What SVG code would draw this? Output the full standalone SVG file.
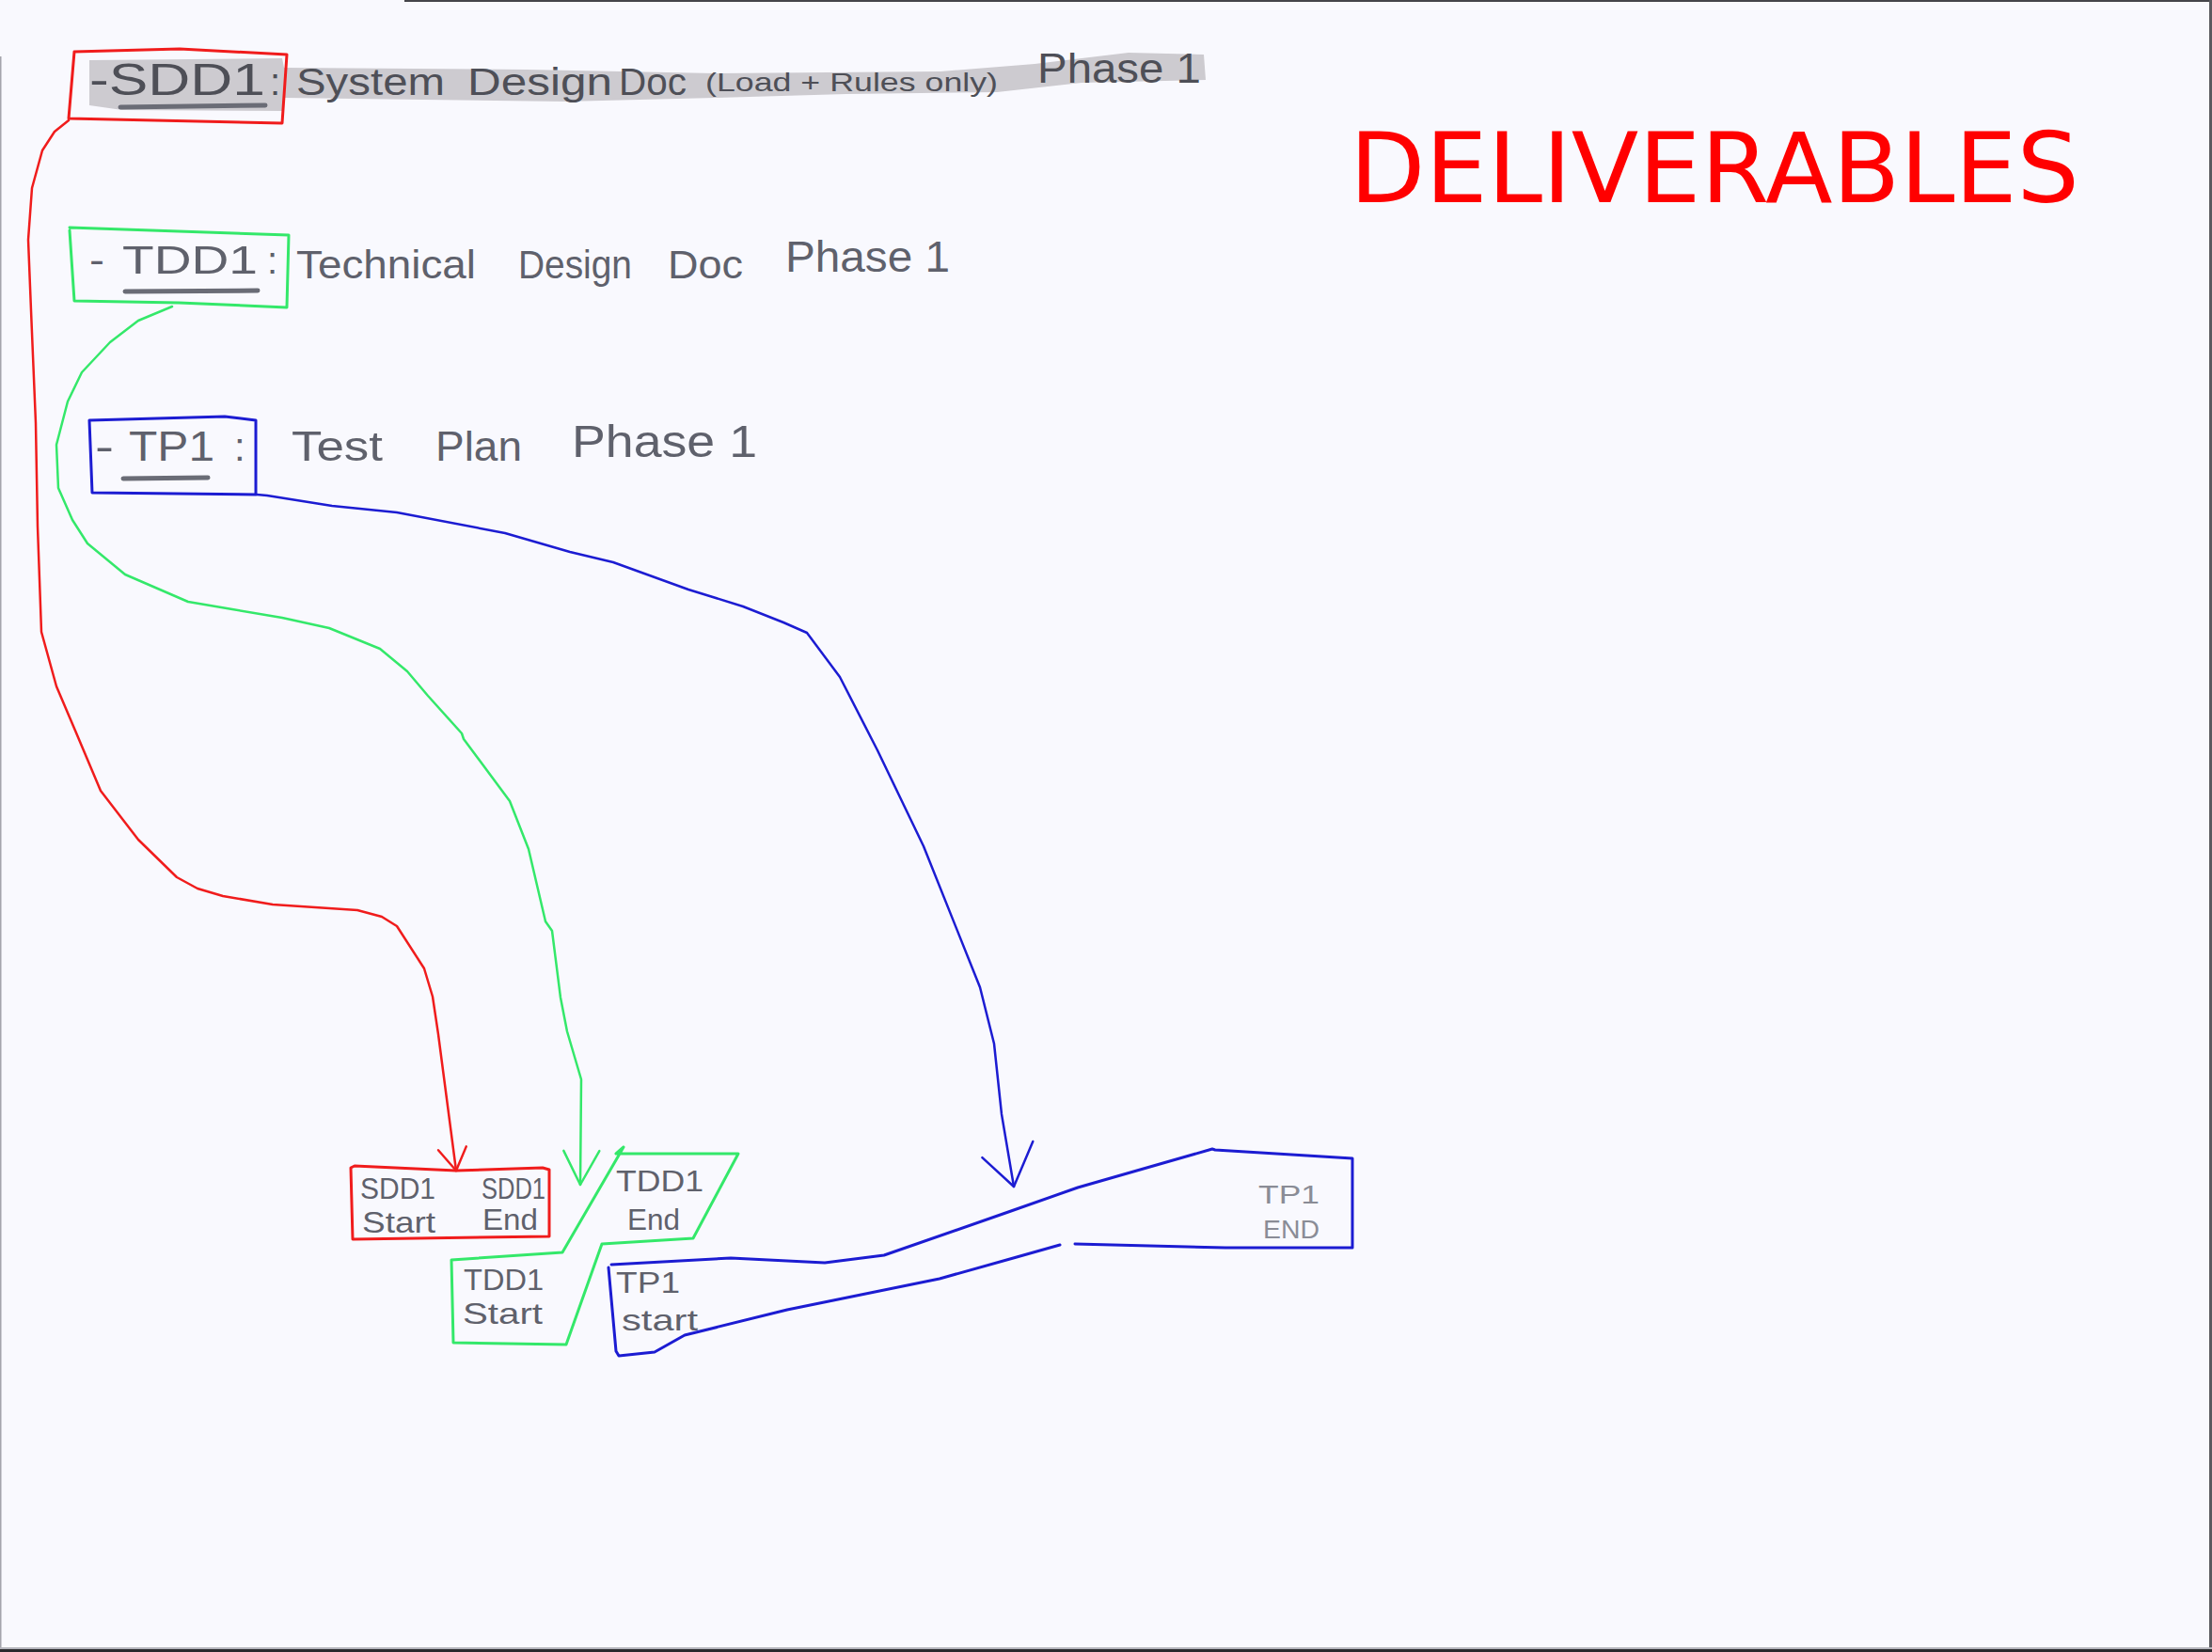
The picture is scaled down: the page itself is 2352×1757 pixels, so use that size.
<svg xmlns="http://www.w3.org/2000/svg" width="2352" height="1757" viewBox="0 0 2352 1757">
<style>
.hand{font-family:"Liberation Sans","DejaVu Sans",sans-serif;fill:#5f616c}
.box{fill:none;stroke-width:3;stroke-linejoin:round;stroke-linecap:round}
.con{fill:none;stroke-width:2.5;stroke-linejoin:round;stroke-linecap:round}
.red{stroke:#f01c1c}
.green{stroke:#34e86a}
.blue{stroke:#1c1cd2}
.ul{stroke:#6a6c76;stroke-width:5;stroke-linecap:round;fill:none}
.small{font-size:32px}
</style>
<defs>
<marker id="arR" markerUnits="userSpaceOnUse" markerWidth="60" markerHeight="60" refX="30" refY="30" orient="auto" viewBox="0 0 60 60"><path d="M6,16 L30,30 L6,46" fill="none" stroke="#f01c1c" stroke-width="2.5" stroke-linecap="round" stroke-linejoin="round"/></marker>
<marker id="arG" markerUnits="userSpaceOnUse" markerWidth="80" markerHeight="80" refX="40" refY="40" orient="auto" viewBox="0 0 80 80"><path d="M4,20 L40,40 L4,58" fill="none" stroke="#34e86a" stroke-width="2.5" stroke-linecap="round" stroke-linejoin="round"/></marker>
<marker id="arB" markerUnits="userSpaceOnUse" markerWidth="100" markerHeight="100" refX="50" refY="50" orient="auto" viewBox="0 0 100 100"><path d="M6,22 L50,50 L14,78" fill="none" stroke="#1c1cd2" stroke-width="2.5" stroke-linecap="round" stroke-linejoin="round"/></marker>
</defs>
<rect x="0" y="0" width="2352" height="1757" fill="#f9f9fe"/>
<g id="frame">
<rect x="430" y="0" width="1922" height="2" fill="#45454b"/>
<rect x="0" y="60" width="1.5" height="1697" fill="#a4a4ac"/>
<rect x="2349" y="0" width="3" height="1757" fill="#5a5a60"/>
<rect x="0" y="1752" width="2352" height="2" fill="#b4b4bc"/>
<rect x="0" y="1754" width="2352" height="3" fill="#2a2a2e"/>
</g>
<g id="title">
<text x="1435" y="215" font-family="DejaVu Sans, sans-serif" font-size="104" fill="#ff0000" textLength="776" lengthAdjust="spacingAndGlyphs">DELIVERABLES</text>
</g>
<g id="sdd1">
<path d="M95,64 L300,62 L302,72 L560,74 L760,78 L1000,76 L1100,68 L1200,56 L1280,58 L1282,85 L1150,88 L1060,98 L900,100 L760,104 L600,108 L450,106 L302,104 L300,118 L130,117 L95,112 Z" fill="#cdcbd0"/>
<path class="box red" d="M79,55 L191,52 L305,58 L300,131 L73,126 Z"/>
<text class="hand" fill="#4e4f57" style="fill:#4e4f57"><tspan x="95" y="101" font-size="48" textLength="187" lengthAdjust="spacingAndGlyphs">-SDD1</tspan><tspan x="287" y="101" font-size="40">:</tspan><tspan x="315" y="101" font-size="40" textLength="158" lengthAdjust="spacingAndGlyphs">System</tspan><tspan x="497" y="101" font-size="40" textLength="154" lengthAdjust="spacingAndGlyphs">Design</tspan><tspan x="658" y="101" font-size="40" textLength="72" lengthAdjust="spacingAndGlyphs">Doc</tspan><tspan x="750" y="97" font-size="28" textLength="311" lengthAdjust="spacingAndGlyphs">(Load + Rules only)</tspan><tspan x="1103" y="88" font-size="44" textLength="174" lengthAdjust="spacingAndGlyphs">Phase 1</tspan></text>
<path class="ul" d="M128,114 L282,112"/>
</g>
<g id="tdd1">
<path class="box green" d="M74,242 L190,246 L307,250 L305,327 L190,322 L79,320 L74,245"/>
<text class="hand"><tspan x="95" y="291" font-size="42" textLength="16" lengthAdjust="spacingAndGlyphs">-</tspan><tspan x="130" y="291" font-size="42" textLength="144" lengthAdjust="spacingAndGlyphs">TDD1</tspan><tspan x="284" y="291" font-size="40">:</tspan><tspan x="315" y="296" font-size="42" textLength="191" lengthAdjust="spacingAndGlyphs">Technical</tspan><tspan x="551" y="296" font-size="42" textLength="121" lengthAdjust="spacingAndGlyphs">Design</tspan><tspan x="710" y="296" font-size="42" textLength="80" lengthAdjust="spacingAndGlyphs">Doc</tspan><tspan x="835" y="289" font-size="46" textLength="175" lengthAdjust="spacingAndGlyphs">Phase 1</tspan></text>
<path class="ul" d="M133,310 L274,309"/>
</g>
<g id="tp1">
<path class="box blue" d="M95,447 L239,443 L272,447 L272,526 L98,524 L95,447"/>
<text class="hand"><tspan x="101" y="490" font-size="44" textLength="20" lengthAdjust="spacingAndGlyphs">-</tspan><tspan x="137" y="490" font-size="44" textLength="91" lengthAdjust="spacingAndGlyphs">TP1</tspan><tspan x="249" y="490" font-size="42">:</tspan><tspan x="310" y="490" font-size="44" textLength="97" lengthAdjust="spacingAndGlyphs">Test</tspan><tspan x="463" y="490" font-size="44" textLength="92" lengthAdjust="spacingAndGlyphs">Plan</tspan><tspan x="608" y="486" font-size="48" textLength="197" lengthAdjust="spacingAndGlyphs">Phase 1</tspan></text>
<path class="ul" d="M131,509 L221,508"/>
</g>
<g id="sdd1-milestones">
<path class="box red" d="M377,1240 L485,1245 L577,1242 L584,1244 L584,1315 L375,1318 L373,1242 Z"/>
<text class="hand small"><tspan x="383" y="1275" textLength="80" lengthAdjust="spacingAndGlyphs">SDD1</tspan><tspan x="385" y="1311" textLength="78" lengthAdjust="spacingAndGlyphs">Start</tspan><tspan x="512" y="1275" textLength="68" lengthAdjust="spacingAndGlyphs">SDD1</tspan><tspan x="513" y="1308" textLength="59" lengthAdjust="spacingAndGlyphs">End</tspan></text>
</g>
<g id="tdd1-milestones">
<path class="box green" d="M663,1220 L655,1227 L785,1227 L737,1317 L640,1323 L602,1430 L482,1428 L480,1340 L598,1332 L663,1220"/>
<text class="hand small"><tspan x="655" y="1267" textLength="93" lengthAdjust="spacingAndGlyphs">TDD1</tspan><tspan x="667" y="1308" textLength="56" lengthAdjust="spacingAndGlyphs">End</tspan><tspan x="493" y="1372" textLength="85" lengthAdjust="spacingAndGlyphs">TDD1</tspan><tspan x="492" y="1408" textLength="85" lengthAdjust="spacingAndGlyphs">Start</tspan></text>
</g>
<g id="tp1-milestones">
<path class="box blue" d="M650,1345 L777,1338 L877,1343 L940,1335 L1075,1288 L1146,1263 L1289,1222 L1292,1223 L1438,1232 L1438,1327 L1303,1327 L1143,1323"/>
<path class="box blue" d="M1127,1324 L1081,1337 L999,1360 L837,1393 L728,1420 L696,1438 L658,1442 L655,1437 L647,1348"/>
<text class="hand small"><tspan x="655" y="1375" textLength="68" lengthAdjust="spacingAndGlyphs">TP1</tspan><tspan x="661" y="1415" textLength="81" lengthAdjust="spacingAndGlyphs">start</tspan></text>
<text class="hand" font-size="28" style="fill:#8a8c96"><tspan x="1338" y="1280" textLength="65" lengthAdjust="spacingAndGlyphs">TP1</tspan><tspan x="1343" y="1317" textLength="60" lengthAdjust="spacingAndGlyphs">END</tspan></text>
</g>
<g id="connectors">
<path class="con red" marker-end="url(#arR)" d="M73,128 L58,140 L45,160 L34,200 L30,255 L33,330 L38,450 L40,560 L44,672 L60,730 L80,777 L107,841 L147,893 L188,933 L210,945 L237,953 L290,962 L380,968 L406,975 L422,985 L451,1030 L460,1060 L466,1100 L485,1245"/>
<path class="con green" marker-end="url(#arG)" d="M183,326 L147,341 L117,364 L87,396 L72,427 L60,473 L62,519 L77,553 L93,578 L133,611 L200,640 L247,648 L300,657 L350,668 L404,690 L433,714 L455,740 L491,780 L493,786 L542,852 L562,903 L580,980 L587,990 L596,1061 L603,1097 L618,1148 L617,1260"/>
<path class="con blue" marker-end="url(#arB)" d="M273,526 L284,527 L353,538 L422,545 L537,567 L606,587 L652,598 L732,627 L790,645 L833,662 L858,673 L893,720 L933,798 L982,900 L1042,1050 L1057,1110 L1065,1185 L1078,1262"/>
</g>
</svg>
